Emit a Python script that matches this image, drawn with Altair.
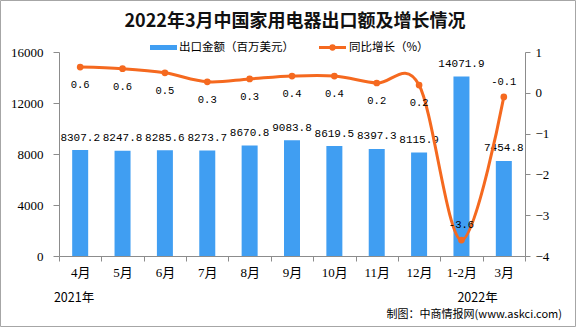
import altair as alt
import pandas as pd

months = ["4月", "5月", "6月", "7月", "8月", "9月", "10月", "11月", "12月", "1-2月", "3月"]
exports = [8307.2, 8247.8, 8285.6, 8273.7, 8670.8, 9083.8, 8619.5, 8397.3, 8115.9, 14071.9, 7454.8]
growth = [0.63, 0.59, 0.49, 0.27, 0.34, 0.41, 0.41, 0.24, 0.19, -3.61, -0.10]
growth_labels = ["0.6", "0.6", "0.5", "0.3", "0.3", "0.4", "0.4", "0.2", "0.2", "-3.6", "-0.1"]
export_labels = ["8307.2", "8247.8", "8285.6", "8273.7", "8670.8", "9083.8", "8619.5", "8397.3", "8115.9", "14071.9", "7454.8"]
left_ticks = [0, 4000, 8000, 12000, 16000]
right_ticks = [-4, -3, -2, -1, 0, 1]

df = pd.DataFrame({
    "month": months,
    "export": exports,
    "elabel": export_labels,
    "growth": growth,
    "glabel": growth_labels,
})

BLUE = "#409ef2"
ORANGE = "#f5691f"
AXIS_GRAY = "#8c8c8c"
NUMFONT = "Liberation Serif, Noto Sans CJK SC"
MONO = "Liberation Mono, Noto Sans CJK SC"
CJK = "Noto Sans CJK SC"

x_enc = alt.X(
    "month:N", sort=months, title=None,
    scale=alt.Scale(paddingInner=0, paddingOuter=0),
    axis=alt.Axis(labelAngle=0, tickBand="extent", domainColor=AXIS_GRAY, tickColor=AXIS_GRAY,
                  tickSize=5, labelPadding=5, labelFont=NUMFONT, labelFontSize=13,
                  labelColor="#000000", grid=False),
)
y_bar = alt.Y(
    "export:Q", title=None, scale=alt.Scale(domain=[0, 16000], nice=False),
    axis=alt.Axis(values=left_ticks, format="d", domainColor=AXIS_GRAY, tickColor=AXIS_GRAY,
                  tickSize=6, labelPadding=10, labelFont=NUMFONT, labelFontSize=13,
                  labelColor="#000000", grid=False),
)
y_line = alt.Y(
    "growth:Q", title=None, scale=alt.Scale(domain=[-4, 1], nice=False),
    axis=alt.Axis(orient="right", values=right_ticks, format="d", domainColor=AXIS_GRAY,
                  tickColor=AXIS_GRAY, tickSize=5, labelPadding=5, labelFont=NUMFONT,
                  labelFontSize=13, labelColor="#000000", grid=False),
)

base = alt.Chart(df)

bars = base.mark_bar(color=BLUE, size=16).encode(x=x_enc, y=y_bar)
bar_text = base.mark_text(font=MONO, fontSize=11, baseline="middle", dy=-12.5, color="#000000").encode(
    x=x_enc, y=y_bar, text="elabel:N")
bar_group = alt.layer(bars, bar_text)

line = base.mark_line(color=ORANGE, strokeWidth=3, interpolate="cardinal").encode(x=x_enc, y=y_line)
pts = base.mark_circle(color=ORANGE, size=45, opacity=1).encode(x=x_enc, y=y_line)
gtext_pos = base.transform_filter("datum.growth >= 0").mark_text(
    font=MONO, fontSize=10.5, baseline="middle", dy=18, color="#000000").encode(
    x=x_enc, y=y_line, text="glabel:N")
gtext_neg = base.transform_filter("datum.growth < 0").mark_text(
    font=MONO, fontSize=10.5, baseline="middle", dy=-15, color="#000000").encode(
    x=x_enc, y=y_line, text="glabel:N")
line_group = alt.layer(line, pts, gtext_pos, gtext_neg)

one = alt.Data(values=[{}])

def label(txt, x, y, size, align="center", font=CJK, weight="normal", color="#000000"):
    return alt.Chart(one).mark_text(
        text=txt, font=font, fontSize=size, fontWeight=weight, align=align,
        baseline="middle", color=color, clip=False,
    ).encode(x=alt.value(x), y=alt.value(y))

title = label("2022年3月中国家用电器出口额及增长情况", 236, -30, 18, weight="bold", color="#111111")
leg_rect = alt.Chart(one).mark_rect(color=BLUE, clip=False).encode(
    x=alt.value(91), x2=alt.value(118), y=alt.value(-7), y2=alt.value(-2))
leg_text1 = label("出口金额（百万美元）", 120, -4.5, 11.5, align="left")
leg_line = alt.Chart(one).mark_rule(color=ORANGE, strokeWidth=3, clip=False).encode(
    x=alt.value(260), x2=alt.value(287), y=alt.value(-4.5))
leg_dot = alt.Chart(one).mark_circle(color=ORANGE, size=40, opacity=1, clip=False).encode(
    x=alt.value(273.5), y=alt.value(-4.5))
leg_text2 = label("同比增长（%）", 290, -4.5, 11.5, align="left")
year1 = label("2021年", 15, 246, 12.5)
year2 = label("2022年", 418.5, 246, 12.5)
source = label("制图：中商情报网(www.askci.com)", 503, 263, 11, align="right")
border = alt.Chart(one).mark_rect(fill=None, stroke="#a6a6a6", strokeWidth=1, clip=False).encode(
    x=alt.value(-58.5), x2=alt.value(516.5), y=alt.value(-51.5), y2=alt.value(274.5))

chart = alt.layer(
    bar_group, line_group,
    title, leg_rect, leg_text1, leg_line, leg_dot, leg_text2, year1, year2, source, border,
).resolve_scale(y="independent").properties(
    width=466, height=204,
    padding={"left": 59, "top": 52, "right": 51, "bottom": 71},
    autosize=alt.AutoSizeParams(type="none"),
    background="#ffffff",
).configure_view(stroke=None)

chart.save("out.html", embed_options={"renderer": "svg", "actions": False})
